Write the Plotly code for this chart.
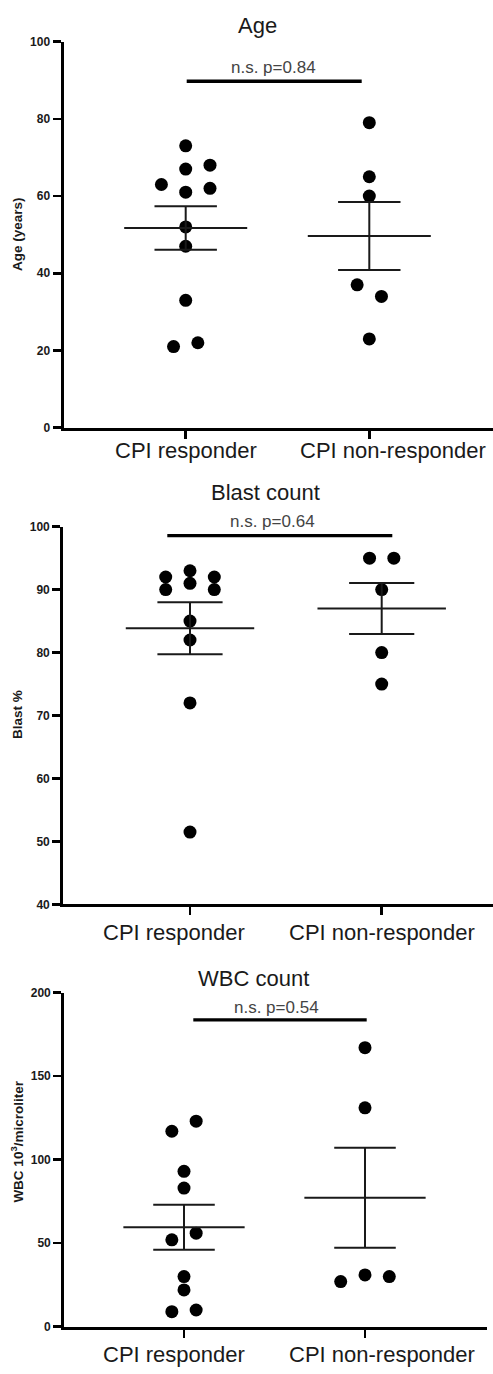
import numpy as np
import plotly.graph_objects as go

# ---------------- data ----------------
categories = ["CPI responder", "CPI non-responder"]

age_responder = [73, 67, 68, 61, 62, 63, 52, 47, 33, 21, 22]
age_nonresponder = [79, 65, 60, 37, 34, 23]

blast_responder = [93, 92, 92, 91, 90, 90, 85, 82, 72, 51.5]
blast_nonresponder = [95, 95, 90, 80, 75]

wbc_responder = [117, 123, 93, 83, 52, 56, 30, 22, 9, 10]
wbc_nonresponder = [167, 131, 31, 30, 27]

panel_titles = ["Age", "Blast count", "WBC count"]
y_titles = ["Age (years)", "Blast %", "WBC 10<sup>3</sup>/microliter"]
p_labels = ["n.s. p=0.84", "n.s. p=0.64", "n.s. p=0.54"]
y_tickvals = [
    [0, 20, 40, 60, 80, 100],
    [40, 50, 60, 70, 80, 90, 100],
    [0, 50, 100, 150, 200],
]
y_ranges = [(0, 100), (40, 100), (0, 200)]
series = [
    (age_responder, age_nonresponder),
    (blast_responder, blast_nonresponder),
    (wbc_responder, wbc_nonresponder),
]

# ---------------- layout geometry (pixels) ----------------
W, H = 493, 1374
FONT = "Liberation Sans, Arial, Helvetica, sans-serif"
LW = 3  # axis line width

panels = [
    dict(left=62, right=493, t0=185.7, t1=369.3, top=35, bottom=425,
         title_xy=(257.7, 19), p_xy=(273, 61), bar=(186.7, 361.7, 75),
         lab_y=448.3, lab_x=(185.5, 393), ytitle_xy=(17.3, 229)),
    dict(left=61.7, right=493, t0=190, t1=381.7, top=525, bottom=906.7,
         title_xy=(265, 491), p_xy=(272.3, 520), bar=(167.3, 392.3, 534),
         lab_y=935, lab_x=(174.2, 381.7), ytitle_xy=(17.3, 715)),
    dict(left=62.7, right=486.7, t0=184, t1=365, top=995.7, bottom=1333.3,
         title_xy=(253.3, 981), p_xy=(276, 1011), bar=(193.3, 366.7, 1023.3),
         lab_y=1361, lab_x=(174.2, 381.7), ytitle_xy=(17.3, 1146)),
]

MARKER = 13
SLOT_PX = 24.3
COLLIDE_PX = 12.5
MEAN_HALF = 0.335
CAP_HALF = 0.17


def px(x):
    return x / W


def py(y):
    return 1 - y / H


def swarm_offsets(values, ppu_y, ppu_x):
    """Greedy beeswarm: slots 0,+1,-1,... then centre each cluster."""
    placed = []
    cand = [0, 1, -1, 2, -2, 3, -3]
    for v in values:
        yv = v * ppu_y
        for c in cand:
            if all(not (sl == c and abs(yv - yp) < COLLIDE_PX) for yp, sl in placed):
                break
        placed.append((yv, c))
    n = len(values)
    parent = list(range(n))

    def find(i):
        while parent[i] != i:
            parent[i] = parent[parent[i]]
            i = parent[i]
        return i

    for i in range(n):
        for j in range(i + 1, n):
            if abs(placed[i][0] - placed[j][0]) < 1.5 * COLLIDE_PX:
                parent[find(i)] = find(j)
    groups = {}
    for i in range(n):
        groups.setdefault(find(i), []).append(i)
    offs = [0.0] * n
    for members in groups.values():
        sl = [placed[i][1] for i in members]
        shift = -(min(sl) + max(sl)) / 2
        for i in members:
            offs[i] = (placed[i][1] + shift) * SLOT_PX / ppu_x
    return offs


fig = go.Figure()
annotations = []
shapes = []
axis_layout = {}

for k, P in enumerate(panels):
    ax = "" if k == 0 else str(k + 1)
    xname, yname = "x" + ax, "y" + ax
    ymin, ymax = y_ranges[k]
    ppu_x = P["t1"] - P["t0"]
    ppu_y = (P["bottom"] - P["top"]) / (ymax - ymin)
    dom_left = P["left"] + LW / 2
    r0 = (dom_left - P["t0"]) / ppu_x
    r1 = (P["right"] - P["t0"]) / ppu_x

    axis_layout["xaxis" + ax] = dict(
        domain=[px(dom_left), px(P["right"])], range=[r0, r1],
        tickvals=[0, 1], showticklabels=False, anchor=yname)
    axis_layout["yaxis" + ax] = dict(
        domain=[py(P["bottom"]), py(P["top"])], range=[ymin, ymax],
        tickvals=y_tickvals[k], anchor=xname)

    for ci, vals in enumerate(series[k]):
        offs = swarm_offsets(vals, ppu_y, ppu_x)
        xs = [ci + o for o in offs]
        fig.add_trace(go.Scatter(x=xs, y=vals, mode="markers",
                                 marker=dict(size=MARKER, color="black"),
                                 xaxis=xname, yaxis=yname, showlegend=False,
                                 cliponaxis=False))
        arr = np.array(vals, dtype=float)
        m = arr.mean()
        sem = arr.std(ddof=1) / np.sqrt(len(arr))
        lx = [ci - MEAN_HALF, ci + MEAN_HALF, None,
              ci, ci, None,
              ci - CAP_HALF, ci + CAP_HALF, None,
              ci - CAP_HALF, ci + CAP_HALF]
        ly = [m, m, None,
              m - sem, m + sem, None,
              m + sem, m + sem, None,
              m - sem, m - sem]
        fig.add_trace(go.Scatter(x=lx, y=ly, mode="lines",
                                 line=dict(color="#1a1a1a", width=2),
                                 xaxis=xname, yaxis=yname, showlegend=False,
                                 hoverinfo="skip"))

    # panel title
    annotations.append(dict(text=panel_titles[k], x=px(P["title_xy"][0]),
                            y=py(P["title_xy"][1]), xref="paper", yref="paper",
                            xanchor="center", yanchor="middle", showarrow=False,
                            font=dict(family=FONT, size=22, color="#1a1a1a")))
    # p-value label
    annotations.append(dict(text=p_labels[k], x=px(P["p_xy"][0]),
                            y=py(P["p_xy"][1]), xref="paper", yref="paper",
                            xanchor="center", yanchor="middle", showarrow=False,
                            font=dict(family=FONT, size=17, color="#444444")))
    # significance bar
    bx0, bx1, by = P["bar"]
    shapes.append(dict(type="line", xref="paper", yref="paper",
                       x0=px(bx0), x1=px(bx1), y0=py(by), y1=py(by),
                       line=dict(color="black", width=3.3)))
    # category labels
    for ci, cat in enumerate(categories):
        annotations.append(dict(text=cat, x=px(P["lab_x"][ci]), y=py(P["lab_y"]),
                                xref="paper", yref="paper", xanchor="center",
                                yanchor="middle", showarrow=False,
                                font=dict(family=FONT, size=22, color="#1a1a1a")))
    # y-axis title
    annotations.append(dict(text=y_titles[k], x=px(P["ytitle_xy"][0]),
                            y=py(P["ytitle_xy"][1]), xref="paper", yref="paper",
                            xanchor="center", yanchor="middle", textangle=-90,
                            showarrow=False,
                            font=dict(family=FONT, size=13.5, color="#1a1a1a",
                                      weight="bold")))

fig.update_layout(width=W, height=H, margin=dict(l=0, r=0, t=0, b=0),
                  paper_bgcolor="white", plot_bgcolor="white",
                  annotations=annotations, shapes=shapes, showlegend=False,
                  **axis_layout)

axis_style = dict(showgrid=False, zeroline=False, showline=True,
                  linecolor="black", linewidth=LW, ticks="outside",
                  ticklen=8, tickwidth=2.5, tickcolor="black", fixedrange=True)
fig.update_xaxes(**axis_style)
fig.update_yaxes(**axis_style,
                 tickfont=dict(family=FONT, size=12, color="#1a1a1a",
                               weight="bold"))

fig.write_html("out.html",
               config={"displayModeBar": False, "staticPlot": True},
               post_script="document.body.style.margin='0';"
                           "document.body.style.overflow='hidden';")
